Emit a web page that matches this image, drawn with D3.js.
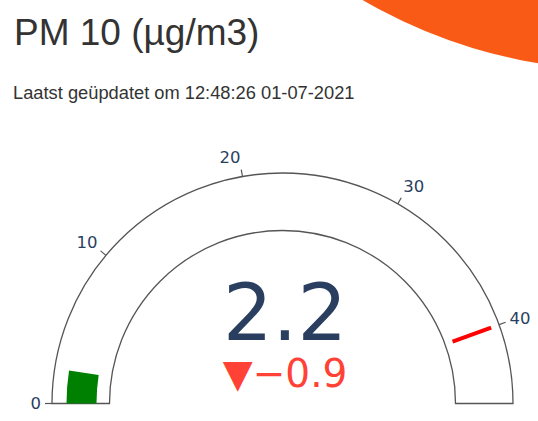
<!DOCTYPE html>
<html>
<head>
<meta charset="utf-8">
<script src="https://cdn.jsdelivr.net/npm/d3@7"></script>
<style>
  body { margin: 0; background: #fff; overflow: hidden; }
  svg { display: block; }
</style>
</head>
<body>
<svg id="chart"></svg>
<script>
// gauge data
const title = "PM 10 (µg/m3)";
const subtitle = "Laatst geüpdatet om 12:48:26 01-07-2021";
const value = 2.2;
const reference = 3.1;
const rangeMax = 45;
const threshold = 40;
const tickValues = [0, 10, 20, 30, 40];

var svgWidth = 538;
var svgHeight = 421;

var svg = d3.select("#chart")
            .attr("width", svgWidth)
            .attr("height", svgHeight);

// orange corner decoration
svg.append("circle")
    .attr("cx", 621)
    .attr("cy", -442)
    .attr("r", 512)
    .attr("fill", "#f95b17");

svg.append("text")
    .attr("x", 14)
    .attr("y", 45)
    .attr("font-family", "Liberation Sans, Arial, sans-serif")
    .attr("font-size", 37)
    .attr("fill", "#333")
    .text(title);

svg.append("text")
    .attr("x", 13)
    .attr("y", 99)
    .attr("font-family", "Liberation Sans, Arial, sans-serif")
    .attr("font-size", 18.3)
    .attr("fill", "#333")
    .text(subtitle);

// gauge geometry
var cx = 282.5, cy = 403.5;
var rOuter = 230.5, rInner = 173;
var tickLen = 7;

var angle = d3.scaleLinear()
            .domain([0, rangeMax])
            .range([-Math.PI / 2, Math.PI / 2]);

var g = svg.append("g")
            .attr("transform", "translate(" + cx + "," + cy + ")");

function px(r, a) { return r * Math.sin(a); }
function py(r, a) { return -r * Math.cos(a); }

// background band
var bg = d3.arc()
            .innerRadius(rInner)
            .outerRadius(rOuter)
            .startAngle(angle(0))
            .endAngle(angle(rangeMax));

g.append("path")
    .attr("d", bg())
    .attr("fill", "none")
    .attr("stroke", "#555")
    .attr("stroke-width", 1.3);

// value bar
var bar = d3.arc()
            .innerRadius(186)
            .outerRadius(216)
            .startAngle(angle(0))
            .endAngle(angle(value));

g.append("path")
    .attr("d", bar())
    .attr("fill", "green");

// threshold
var ta = angle(threshold);
g.append("line")
    .attr("x1", px(181, ta)).attr("y1", py(181, ta))
    .attr("x2", px(222, ta)).attr("y2", py(222, ta))
    .attr("stroke", "red")
    .attr("stroke-width", 4);

// ticks
var ticks = g.selectAll(".tick")
            .data(tickValues)
            .enter().append("g")
            .attr("class", "tick");

ticks.append("line")
    .attr("x1", function(d) { return px(rOuter, angle(d)); })
    .attr("y1", function(d) { return py(rOuter, angle(d)); })
    .attr("x2", function(d) { return px(rOuter + tickLen, angle(d)); })
    .attr("y2", function(d) { return py(rOuter + tickLen, angle(d)); })
    .attr("stroke", "#555")
    .attr("stroke-width", 1.2);

var fs = 16.5;
ticks.append("text")
    .attr("x", function(d) { return px(rOuter + tickLen + 4, angle(d)); })
    .attr("y", function(d) {
        var a = angle(d);
        return py(rOuter + tickLen + 4, a) + fs * 0.35 - Math.cos(a) * fs * 0.55;
    })
    .attr("text-anchor", function(d) {
        var s = Math.sin(angle(d));
        return s < -0.05 ? "end" : (s > 0.05 ? "start" : "middle");
    })
    .attr("font-family", "DejaVu Sans, Verdana, sans-serif")
    .attr("font-size", fs)
    .attr("fill", "#2a3f5f")
    .text(function(d) { return d; });

// big number and delta
g.append("text")
    .attr("x", 2.5)
    .attr("y", -63.5)
    .attr("text-anchor", "middle")
    .attr("font-family", "DejaVu Sans, Verdana, sans-serif")
    .attr("font-size", 78)
    .attr("fill", "#2a3f5f")
    .text(d3.format(".1f")(value));

var delta = value - reference;
g.append("text")
    .attr("x", 2.5)
    .attr("y", -17)
    .attr("text-anchor", "middle")
    .attr("font-family", "DejaVu Sans, Verdana, sans-serif")
    .attr("font-size", 39)
    .attr("fill", "#FF4136")
    .text((delta < 0 ? "▼" : "▲") + (delta < 0 ? "−" : "") + d3.format(".1f")(Math.abs(delta)));
</script>
</body>
</html>
